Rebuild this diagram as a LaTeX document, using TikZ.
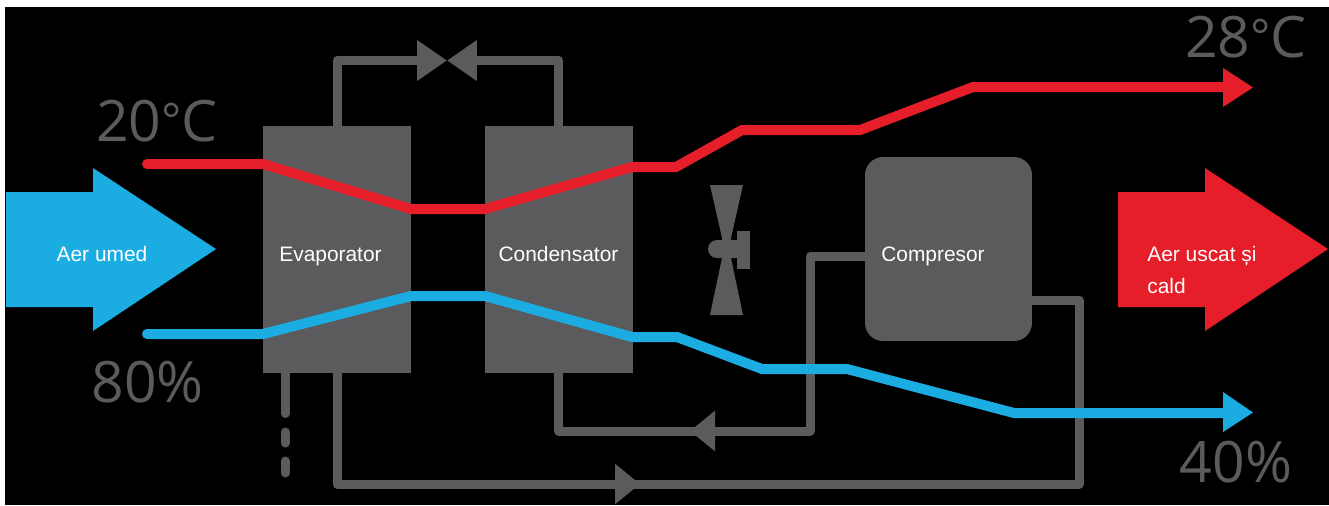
\documentclass[tikz,border=0pt]{standalone}
\usepackage{fontspec}
\setmainfont{Liberation Sans}
\newfontfamily\bigfont{Open Sans}
\usepackage{tikz}
\usetikzlibrary{calc}
\usetikzlibrary{positioning}
\usetikzlibrary{arrows.meta}
\definecolor{pipegray}{HTML}{5B5B5D}
\definecolor{airred}{HTML}{E61E2A}
\definecolor{airblue}{HTML}{1BACE2}
\def\airarrow[#1](#2,#3:#4){ \fill[#1] (#2,#3) -- ++(87,0) -- ++(0,-24) -- ++(#4,81) -- ++(-#4,82) -- ++(0,-24) -- ++(-87,0) -- cycle }
\def\degmark{\raisebox{2.5pt}{\fontsize{27}{30}\selectfont °}}
\tikzstyle{box} = [fill=pipegray, inner sep=0pt, outer sep=0pt, minimum width=2.96cm, minimum height=4.94cm]
\tikzstyle{pipe} = [draw=pipegray, line width=0.18cm, line join=round]
\tikzstyle{gastip} = [-{Triangle[length=0.6cm,width=0.78cm]}]
\tikzstyle{shorttip} = [-{Triangle[length=0.5cm,width=0.78cm]}]
\tikzstyle{hot} = [draw=airred, line width=0.2cm, line cap=round]
\tikzstyle{cold} = [draw=airblue, line width=0.2cm, line cap=round]
\tikzstyle{lbl} = [text=white, font=\fontsize{11.9}{14}\selectfont, inner sep=0pt, anchor=base]
\tikzstyle{reading} = [text=pipegray, font=\bigfont\fontsize{32.5}{36}\selectfont, inner sep=0pt]

\begin{document}
\begin{tikzpicture}[x=0.02cm,y=-0.02cm]
                        \useasboundingbox (0,0) rectangle (1329,505);
                        \fill[black] (5,7) rectangle (1329,505);

                        \node[box](Evap) at (337,249.5) {};
                        \node[box,right=1.48cm of Evap](Cond) {};
                        \node[box,rounded corners=0.36cm,minimum width=3.34cm,minimum height=3.68cm](Comp) at (948.5,249) {};

                        \coordinate (Valve) at (447,60.5);
                        \coordinate (CompIn) at (865,256);
                        \coordinate (CompBend) at (810,431);
                        \coordinate (BackTip) at (690,431);
                        \coordinate (BackBase) at (705,431);
                        \coordinate (FwdTip) at (640,484);
                        \coordinate (FwdBase) at (625,484);
                        \coordinate (CompOut) at (1032,300);
                        \coordinate (OutBend) at (1079,484);
                        \coordinate (Drain) at (285,373);

                        \draw[pipe,gastip](Evap.north) |- (Valve);
                        \draw[pipe,gastip](Cond.north) |- (Valve);
                        \draw[pipe,shorttip](CompIn) -| (CompBend) -- (BackTip);
                        \draw[pipe](Cond.south) |- (BackBase);
                        \draw[pipe,shorttip](Evap.south) |- (FwdTip);
                        \draw[pipe](CompOut) -| (OutBend) -- (FwdBase);

                        \draw[pipe](Drain) -- ++(0,40);
                        \draw[pipe,line cap=round](Drain) ++(0,40) -- ++(0,0.5);
                        \draw[pipe,line cap=round](Drain) ++(0,59) -- ++(0,11);
                        \draw[pipe,line cap=round](Drain) ++(0,88) -- ++(0,12);

                        \fill[pipegray] (710,185) -- (743,185) -- (731,238) -- (731,258) -- (743,315) -- (710,315) -- (722,258) -- (722,238) -- cycle;
                        \fill[pipegray,rounded corners=0.18cm] (708,240) rectangle (745,258);
                        \fill[pipegray] (737,231) rectangle (750,269);

                        \draw[hot](147,164) -- (263,164) -- (411,209) -- (485,209) -- (632,167) -- (676,167) -- (742,130) -- (860,130) -- (973,87) -- (1230,87);
                        \draw[cold](147,334) -- (263,334) -- (411,296) -- (485,296) -- (632,337) -- (677,337) -- (762,369) -- (847,369) -- (1014,413) -- (1230,413);
                        \fill[airred] (1223,68) -- (1253,87.5) -- (1223,107) -- cycle;
                        \fill[airblue] (1223,392) -- (1253,412.5) -- (1223,432) -- cycle;

                        \airarrow[airblue](6,192:123);
                        \airarrow[airred](1118,192:123);

                        \node[lbl](Umed) at (102,261) {Aer umed};
                        \node[lbl](EvapText) at (330.5,261) {Evaporator};
                        \node[lbl](CondText) at (558.5,261) {Condensator};
                        \node[lbl](CompText) at (933,261) {Compresor};
                        \node[lbl,anchor=base west](Uscat) at (1147,261) {Aer uscat și};
                        \node[lbl,anchor=base west](Cald) at (1147,293) {cald};

                        \node[reading](TempIn) at (157,121) {20\degmark C};
                        \node[reading](TempOut) at (1246,37) {28\degmark C};
                        \node[reading](HumIn) at (147.5,382) {80\%};
                        \node[reading](HumOut) at (1236,462) {40\%};
                    \end{tikzpicture}
\end{document}
